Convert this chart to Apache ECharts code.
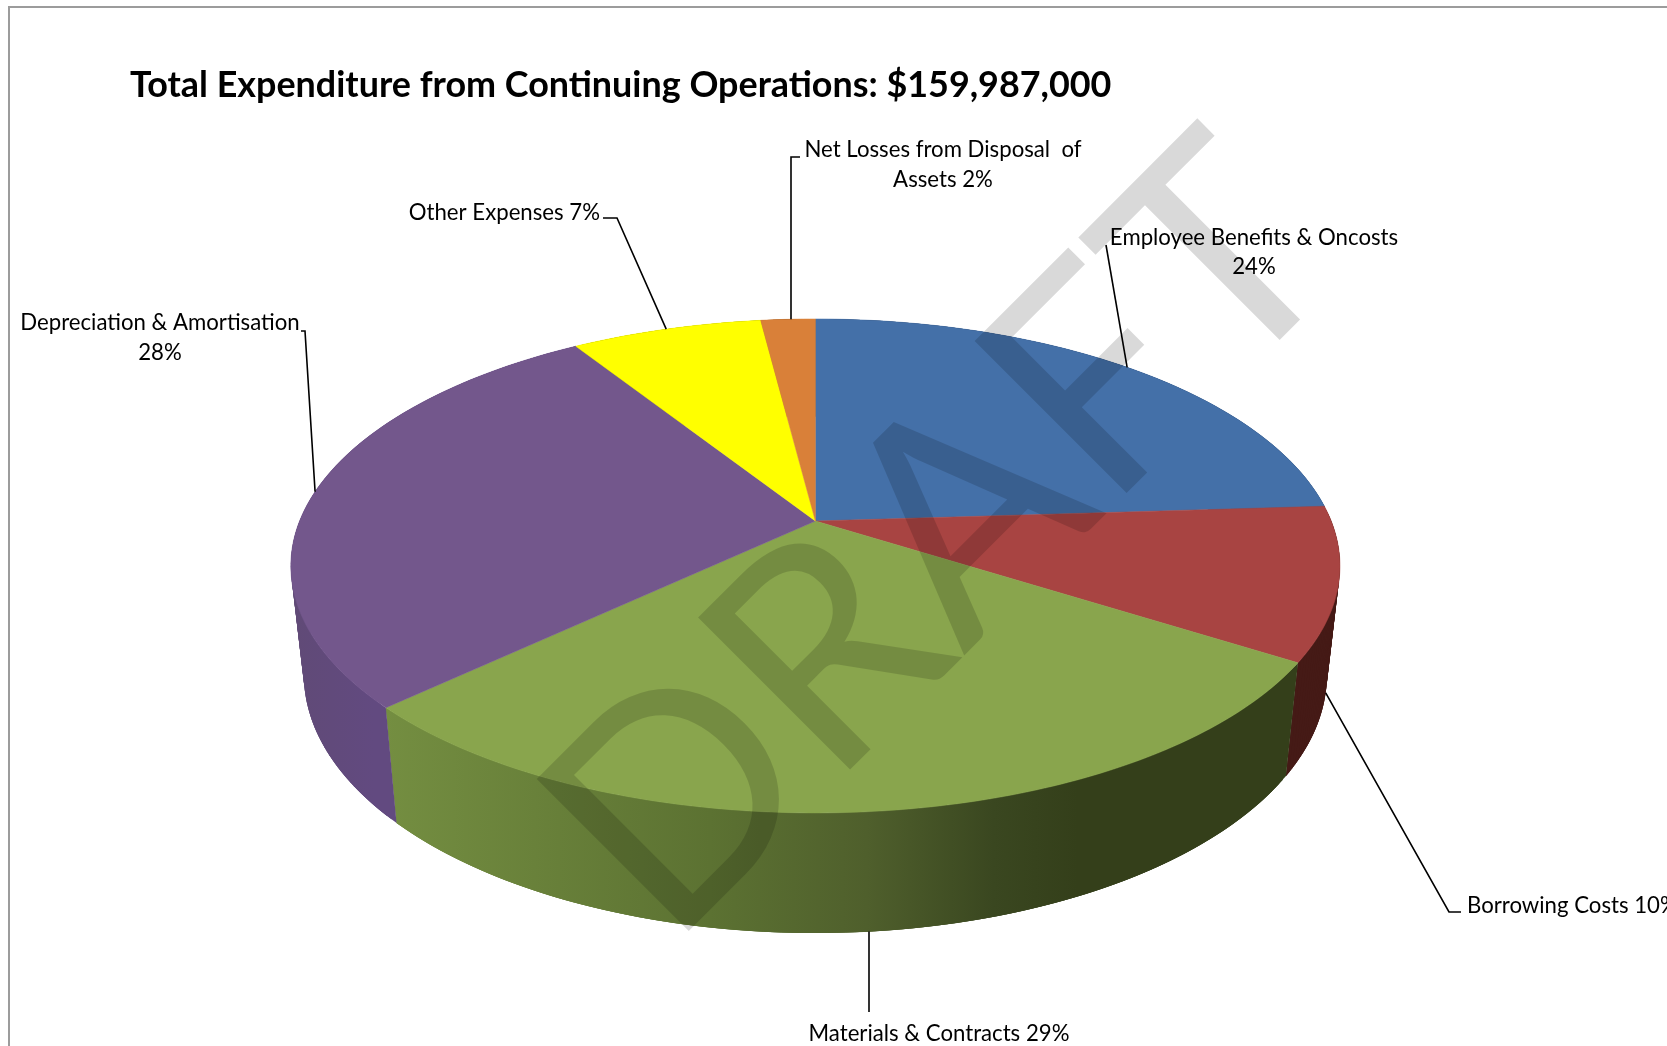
<!DOCTYPE html>
<html>
<head>
<meta charset="utf-8">
<title>Total Expenditure from Continuing Operations</title>
<script src="https://cdn.jsdelivr.net/npm/echarts@6/dist/echarts.min.js"></script>
<style>
html, body { margin: 0; padding: 0; background: #fff; }
#chart { width: 1667px; height: 1046px; }
</style>
</head>
<body>
<div id="chart"></div>
<script>
// Expenditure shares, in drawing order clockwise from twelve o'clock.
const categories = [
  'Employee Benefits & Oncosts',
  'Borrowing Costs',
  'Materials & Contracts',
  'Depreciation & Amortisation',
  'Other Expenses',
  'Net Losses from Disposal of Assets'
];
const shares = [24, 10, 29, 28, 7, 2];
const titleText = 'Total Expenditure from Continuing Operations: $159,987,000';
const labelLines = [
  ['Employee Benefits & Oncosts', '24%'],
  ['Borrowing Costs 10%'],
  ['Materials & Contracts 29%'],
  ['Depreciation & Amortisation', '28%'],
  ['Other Expenses 7%'],
  ['Net Losses from Disposal  of', 'Assets 2%']
];

const faceColors = ['#4470a8', '#a84442', '#89a54d', '#73578c', '#ffff00', '#d98039'];
const FONT = 'Lato, "Open Sans", sans-serif';

// Perspective disc: k is the foreshortening along the depth direction.
const K = 0.182;
const TOP_PLANE = { cx: 815.4, cy: 521, a: 515.8, b: 238.8 };
const BOTTOM_PLANE = { cx: 815.4, cy: 627.8, a: 503, b: 249.7 };

function project(plane, theta) {
  const u = Math.sin(theta);
  const v = -Math.cos(theta);
  const d = 1 - K * v;
  return [plane.cx + plane.a * u / d, plane.cy + plane.b * v / d];
}

function arc(plane, from, to) {
  const steps = Math.max(2, Math.ceil(Math.abs(to - from) / 0.015));
  const pts = [];
  for (let i = 0; i <= steps; i++) {
    pts.push(project(plane, from + (to - from) * i / steps));
  }
  return pts;
}

const total = shares.reduce((s, v) => s + v, 0);
function sliceAngles(index) {
  let before = 0;
  for (let i = 0; i < index; i++) before += shares[i];
  const start = before / total * Math.PI * 2;
  const end = (before + shares[index]) / total * Math.PI * 2;
  return { start, end, mid: (start + end) / 2 };
}

// Side shading runs left to right across the whole disc.
function wallFill(stops) {
  return new echarts.graphic.LinearGradient(
    290, 0, 1340, 0,
    stops.map(s => ({ offset: s[0], color: s[1] })),
    true
  );
}
const wallFills = [
  '#2f4a70',
  '#451a16',
  wallFill([[0, '#7b9745'], [0.09, '#748e41'], [0.4, '#5c7232'], [0.55, '#4f5f2c'], [0.67, '#3a4720'], [0.75, '#343f1a'], [1, '#343f1a']]),
  wallFill([[0, '#604a76'], [0.08, '#624a80'], [1, '#624a80']]),
  '#a5a500',
  '#8c5224'
];

// Leader routes: elbow then the stub next to the label. Anchors come from the slice's mid angle;
// plumb routes keep the elbow's x so the line stays vertical.
const leaders = [
  { plane: TOP_PLANE, via: [[1106, 245], [1106, 245]] },
  { plane: BOTTOM_PLANE, via: [[1449, 912], [1461, 912]] },
  { plane: BOTTOM_PLANE, via: [[869, 1012], [869, 1012]], plumb: true },
  { plane: TOP_PLANE, via: [[305, 331], [301, 331]] },
  { plane: TOP_PLANE, via: [[617, 218], [603, 218]] },
  { plane: TOP_PLANE, via: [[791, 157], [800, 157]], plumb: true }
];
const labelPlaces = [
  { x: 1254, y: 238, align: 'center', gap: 29 },
  { x: 1467, y: 906, align: 'left', gap: 29 },
  { x: 939, y: 1034, align: 'center', gap: 29 },
  { x: 160, y: 323, align: 'center', gap: 30 },
  { x: 600, y: 213, align: 'right', gap: 29 },
  { x: 943, y: 150, align: 'center', gap: 30 }
];

const rows = shares.map((v, i) => ({ name: categories[i], value: [v] }));

const option = {
  animation: false,
  backgroundColor: '#ffffff',
  title: {
    text: titleText,
    left: 125,
    top: 62,
    textStyle: { fontFamily: FONT, fontSize: 35.9, fontWeight: 'bold', color: '#000' }
  },
  graphic: [
    {
      type: 'rect',
      silent: true,
      z: 0,
      shape: { x: 9, y: 7, width: 1800, height: 1200 },
      style: { fill: 'none', stroke: '#9c9c9c', lineWidth: 2 }
    },
    {
      type: 'text',
      silent: true,
      z: 50,
      x: 707,
      y: 988,
      rotation: Math.PI / 4,
      style: {
        text: 'DRAFT',
        x: 0,
        y: 0,
        textAlign: 'left',
        textVerticalAlign: 'bottom',
        font: '300px Lato, sans-serif',
        fill: 'rgba(0,0,0,0.15)'
      }
    }
  ],
  series: [
    {
      // Outer walls of the disc, built from overlapping strips so the silhouette runs
      // straight between the two rims; the top faces cover the back half.
      type: 'custom',
      coordinateSystem: 'none',
      z: 2,
      silent: true,
      data: rows,
      renderItem(params) {
        const i = params.dataIndex;
        const { start, end } = sliceAngles(i);
        const upper = arc(TOP_PLANE, start, end);
        const lower = arc(BOTTOM_PLANE, start, end);
        const last = upper.length - 1;
        const children = [];
        for (let n = 0; n < last; n++) {
          const m = Math.min(n + 3, last);
          children.push({
            type: 'polygon',
            shape: { points: [upper[n], upper[m], lower[m], lower[n]] },
            style: { fill: wallFills[i] }
          });
        }
        return { type: 'group', children };
      }
    },
    {
      // Top faces.
      type: 'custom',
      coordinateSystem: 'none',
      z: 3,
      silent: true,
      data: rows,
      renderItem(params) {
        const i = params.dataIndex;
        const { start, end } = sliceAngles(i);
        const points = [[TOP_PLANE.cx, TOP_PLANE.cy]].concat(arc(TOP_PLANE, start, end));
        return {
          type: 'polygon',
          shape: { points },
          style: { fill: faceColors[i], stroke: faceColors[i], lineWidth: 0.5 }
        };
      }
    },
    {
      // Leader lines and category labels.
      type: 'custom',
      coordinateSystem: 'none',
      z: 4,
      silent: true,
      data: rows,
      renderItem(params) {
        const i = params.dataIndex;
        const { mid } = sliceAngles(i);
        const route = leaders[i];
        const place = labelPlaces[i];
        const anchor = project(route.plane, mid);
        if (route.plumb) anchor[0] = route.via[0][0];
        const children = [{
          type: 'polyline',
          shape: { points: [anchor].concat(route.via) },
          style: { fill: 'none', stroke: '#000', lineWidth: 1.6 }
        }];
        labelLines[i].forEach((line, n) => {
          children.push({
            type: 'text',
            style: {
              text: line,
              x: place.x,
              y: place.y + n * place.gap,
              textAlign: place.align,
              textVerticalAlign: 'middle',
              font: '22.2px ' + FONT,
              fill: '#000'
            }
          });
        });
        return { type: 'group', children };
      }
    }
  ]
};

const chart = echarts.init(document.getElementById('chart'), null, { renderer: 'canvas' });
chart.setOption(option);
</script>
</body>
</html>
